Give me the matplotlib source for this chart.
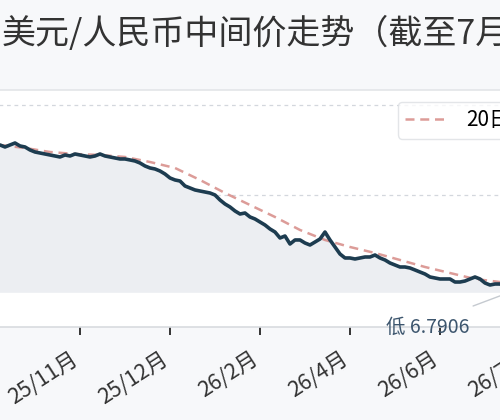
import numpy as np
import matplotlib
matplotlib.use("Agg")
import matplotlib.pyplot as plt
import matplotlib.transforms as mtransforms

plt.rcParams['font.family'] = ['Noto Sans CJK SC', 'DejaVu Sans']

# ---- data (trading-day index, each step ~2 trading days) ----
day = list(range(-2, 106))
usd_cny = [
    7.1050, 7.1094, 7.1116, 7.1072, 7.1116, 7.1160, 7.1094, 7.1072, 7.1006, 7.0961,
    7.0939, 7.0917, 7.0895, 7.0873, 7.0851, 7.0895, 7.0873, 7.0917, 7.0895, 7.0873,
    7.0851, 7.0873, 7.0917, 7.0873, 7.0851, 7.0829, 7.0807, 7.0807, 7.0785, 7.0762,
    7.0718, 7.0652, 7.0608, 7.0586, 7.0541, 7.0475, 7.0387, 7.0343, 7.0320, 7.0210,
    7.0166, 7.0122, 7.0099, 7.0077, 7.0055, 7.0011, 6.9901, 6.9812, 6.9746, 6.9658,
    6.9591, 6.9613, 6.9525, 6.9481, 6.9414, 6.9348, 6.9260, 6.9193, 6.9061, 6.9105,
    6.8928, 6.9017, 6.9017, 6.8950, 6.8906, 6.8972, 6.9039, 6.9193, 6.9017, 6.8862,
    6.8707, 6.8619, 6.8619, 6.8597, 6.8619, 6.8641, 6.8641, 6.8685, 6.8619, 6.8575,
    6.8508, 6.8464, 6.8420, 6.8420, 6.8398, 6.8354, 6.8309, 6.8265, 6.8199, 6.8177,
    6.8155, 6.8155, 6.8155, 6.8088, 6.8088, 6.8110, 6.8155, 6.8199, 6.8155, 6.8066,
    6.8022, 6.8044, 6.8044, 6.8000, 6.7934, 6.7906, 6.7956, 6.7978,
]
ma_day = [0, 5, 10, 15, 20, 25, 30, 35, 40, 45, 50, 55, 60, 65, 70, 75, 80, 85, 90, 95, 100, 105]
ma20 = [7.1116, 7.1050, 7.0961, 7.0917, 7.0895, 7.0851, 7.0740, 7.0608, 7.0343, 7.0055,
        6.9790, 6.9525, 6.9238, 6.9017, 6.8862, 6.8729, 6.8575, 6.8420, 6.8287, 6.8155,
        6.8088, 6.8000]
tick_pos = [16, 34, 52, 70, 88, 106]
tick_labels = ['25/11月', '25/12月', '26/2月', '26/4月', '26/6月', '26/7月']
y_ticks = [6.8, 7.0, 7.2]

title = '美元/人民币中间价走势（截至7月24日）'

BG = '#f7f8fa'
fig = plt.figure(figsize=(5, 4.2), dpi=100, facecolor=BG)
ax = fig.add_axes([-0.12, 93 / 420, 1.24, 237 / 420])
ax.set_facecolor('white')

x = np.array(day)
y = np.array(usd_cny)
ax.fill_between(x, y, 6.785, color='#eceef2', zorder=1, lw=0)
ax.plot(x, y, color='#1d3c50', lw=2.6, zorder=3, solid_joinstyle='round',
        label='美元/人民币中间价')
ax.plot(ma_day, ma20, color='#d4837f', lw=1.8, ls=(0, (3.6, 2.3)), alpha=0.8,
        zorder=2, label='20日均线')

ax.set_xlim(-12, 112)
ax.set_ylim(6.7094, 7.2331)
ax.set_yticks(y_ticks)
ax.grid(axis='y', color='#d3d7dd', lw=0.9, ls=(0, (3, 3)))
ax.set_axisbelow(True)
ax.tick_params(axis='y', left=False, labelleft=False)

ax.set_xticks(tick_pos)
ax.set_xticklabels(tick_labels, rotation=33, ha='right', va='top',
                   rotation_mode='anchor', fontsize=15.5, color='#333333')
ax.tick_params(axis='x', length=6, width=1.4, color='#333333', pad=9)
offset = mtransforms.ScaledTranslation(-10 / 100, 0, fig.dpi_scale_trans)
for lbl in ax.get_xticklabels():
    lbl.set_transform(lbl.get_transform() + offset)

for s in ['left', 'right']:
    ax.spines[s].set_visible(False)
ax.spines['top'].set_color('#e3e5e8')
ax.spines['bottom'].set_color('#d8dbdf')
ax.spines['top'].set_linewidth(1.2)
ax.spines['bottom'].set_linewidth(1.2)

# low annotation
imin = int(np.argmin(y))
ax.annotate(f'低 {y[imin]:.4f}', xy=(x[imin], y[imin]), xytext=(85.6, 6.7094),
            ha='center', va='center', fontsize=14, color='#3d566e',
            annotation_clip=False, zorder=5,
            arrowprops=dict(arrowstyle='-', color='#c5cad0', lw=1.0,
                            relpos=(1.04, 1.5), shrinkA=0, shrinkB=0))

handles, labels = ax.get_legend_handles_labels()
leg = fig.legend([handles[1], handles[0]], [labels[1], labels[0]], ncol=2,
                 loc='upper left', bbox_to_anchor=(398 / 500, (420 - 102) / 420),
                 borderaxespad=0, fontsize=15, frameon=True, handlelength=1.9,
                 handletextpad=1.0, borderpad=0.35, columnspacing=1.5,
                 fancybox=True)
leg.get_frame().set_edgecolor('#dcdfe3')
leg.get_frame().set_facecolor('white')
leg.get_frame().set_linewidth(1.0)

fig.text(0.004, (420 - 34) / 420, title, fontsize=24.5, va='center', ha='left',
         color='#333333')

fig.savefig('out.png', dpi=100, facecolor=BG)
